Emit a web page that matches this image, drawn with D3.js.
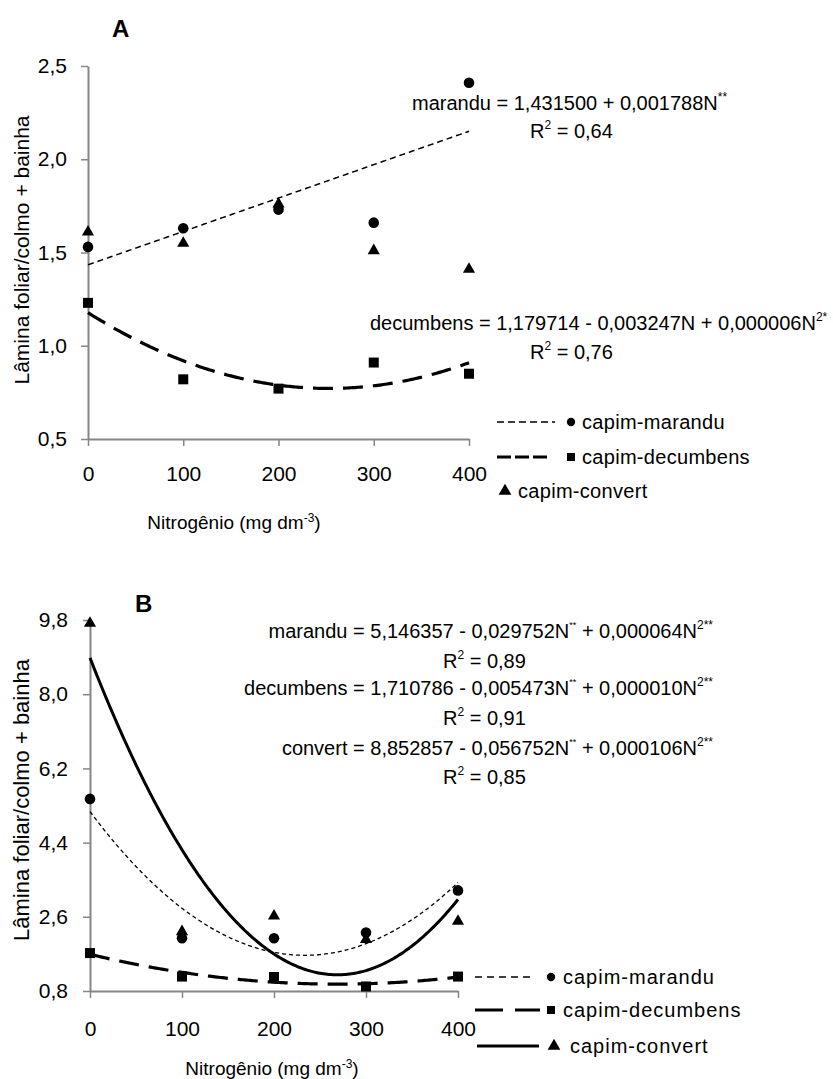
<!DOCTYPE html>
<html><head><meta charset="utf-8">
<script src="https://cdn.jsdelivr.net/npm/d3@7"></script>
<style>
body{margin:0;background:#fff;}
svg{display:block;font-family:"Liberation Sans",Arial,sans-serif;}
</style></head>
<body>
<svg id="c" width="833" height="1079"></svg>
<script>
const nitrogen = [0, 100, 200, 300, 400];
const xTicks = [0, 100, 200, 300, 400];
// Panel A
const aMarandu = [1.53, 1.63, 1.73, 1.66, 2.41];
const aDecumbens = [1.23, 0.82, 0.77, 0.91, 0.85];
const aConvert = [1.61, 1.55, 1.76, 1.51, 1.41];
const aYTicks = [0.5, 1.0, 1.5, 2.0, 2.5];
// Panel B
const bMarandu = [5.46, 2.08, 2.08, 2.22, 3.24];
const bDecumbens = [1.72, 1.15, 1.14, 0.91, 1.15];
const bConvert = [9.72, 2.24, 2.62, 2.05, 2.49];
const bYTicks = [0.8, 2.6, 4.4, 6.2, 8.0, 9.8];

const svg = d3.select("#c");
const AX = "#868686";
const fmt = d => d.toFixed(1).replace(".", ",");

// least squares polynomial fit (degree 1 or 2), like a spreadsheet trendline
function polyfit(xs, ys, deg) {
  const n = deg + 1;
  const M = Array.from({length: n}, () => new Array(n + 1).fill(0));
  xs.forEach((x, k) => {
    for (let i = 0; i < n; i++) {
      for (let j = 0; j < n; j++) M[i][j] += Math.pow(x, i + j);
      M[i][n] += ys[k] * Math.pow(x, i);
    }
  });
  for (let i = 0; i < n; i++) {
    let p = i;
    for (let r = i + 1; r < n; r++) if (Math.abs(M[r][i]) > Math.abs(M[p][i])) p = r;
    [M[i], M[p]] = [M[p], M[i]];
    for (let r = 0; r < n; r++) if (r !== i) {
      const f = M[r][i] / M[i][i];
      for (let c = i; c <= n; c++) M[r][c] -= f * M[i][c];
    }
  }
  const coef = M.map((row, i) => row[n] / row[i]);
  return x => coef.reduce((s, c, i) => s + c * Math.pow(x, i), 0);
}

const sym = {
  circle: d3.symbol().type(d3.symbolCircle).size(88)(),
  square: d3.symbol().type(d3.symbolSquare).size(100)(),
  triangle: d3.symbol().type(d3.symbolTriangle).size(64)()
};

function panel(cfg) {
  const x = d3.scaleLinear().domain([0, 400]).range(cfg.xr);
  const y = d3.scaleLinear().domain(cfg.yd).range(cfg.yr);
  const g = svg.append("g");

  const ya = g.append("g").attr("transform", `translate(${cfg.xr[0]},0)`)
    .call(d3.axisLeft(y).tickValues(cfg.yTicks).tickFormat(fmt).tickSize(7).tickSizeOuter(0).tickPadding(cfg.yPad));
  const xa = g.append("g").attr("transform", `translate(0,${cfg.yr[0]})`)
    .call(d3.axisBottom(x).tickValues(xTicks).tickFormat(d3.format("d")).tickSize(7).tickSizeOuter(0).tickPadding(cfg.xPad));
  [ya, xa].forEach(a => {
    a.select(".domain").attr("stroke", AX).attr("stroke-width", 2);
    a.selectAll(".tick line").attr("stroke", AX).attr("stroke-width", 1.5);
    a.selectAll(".tick text").attr("fill", "#000").style("font-size", "21px").style("font-family", '"Liberation Sans",Arial,sans-serif');
  });

  // fitted curves
  const grid = d3.range(0, 400.001, 2);
  cfg.series.forEach(s => {
    if (!s.deg) return;
    const f = polyfit(nitrogen, s.values, s.deg);
    g.append("path")
      .attr("d", d3.line().x(d => x(d)).y(d => y(f(d)))(grid))
      .attr("fill", "none").attr("stroke", "#000")
      .attr("stroke-width", s.sw).attr("stroke-dasharray", s.dash || null);
  });
  // markers
  cfg.series.forEach(s => {
    g.selectAll(null).data(s.values).join("path")
      .attr("d", sym[s.shape])
      .attr("transform", (d, i) => `translate(${x(nitrogen[i])},${y(d)})`)
      .attr("fill", "#000");
  });

  // titles
  g.append("text").attr("x", cfg.label[0]).attr("y", cfg.label[1])
    .attr("font-size", 24).attr("font-weight", "bold").text(cfg.name);
  const xt = g.append("text").attr("x", cfg.xTitle[0]).attr("y", cfg.xTitle[1])
    .attr("text-anchor", "middle").attr("font-size", 19);
  xt.append("tspan").text("Nitrogênio (mg dm");
  xt.append("tspan").attr("dy", -7).attr("font-size", 12).text("-3");
  xt.append("tspan").attr("dy", 7).text(")");
  g.append("text").attr("transform", `translate(${cfg.yTitle[0]},${cfg.yTitle[1]}) rotate(-90)`)
    .attr("text-anchor", "middle").attr("font-size", cfg.yTitleSize).text("Lâmina foliar/colmo + bainha");

  // equations
  cfg.eqs.forEach(e => {
    const t = g.append("text").attr("x", e.x).attr("y", e.y).attr("font-size", 20)
      .attr("text-anchor", e.anchor || "start");
    e.parts.forEach(p => {
      const ts = t.append("tspan").text(p[0]);
      if (p[1] === "sup") ts.attr("font-size", 12).attr("baseline-shift", "9");
      if (p[1] === "sup2") ts.attr("font-size", 9).attr("baseline-shift", "10");
    });
  });

  // legend
  cfg.legend.forEach(l => {
    if (l.line) {
      g.append("line").attr("x1", l.line[0]).attr("x2", l.line[1]).attr("y1", l.y).attr("y2", l.y)
        .attr("stroke", "#000").attr("stroke-width", l.sw).attr("stroke-dasharray", l.dash || null);
    }
    g.append("path").attr("d", d3.symbol().type(l.type).size(l.size)())
      .attr("transform", `translate(${l.mx},${l.y})`).attr("fill", "#000");
    g.append("text").attr("x", l.tx).attr("y", l.y + 7).attr("font-size", 20)
      .attr("letter-spacing", cfg.legendSpacing).text(l.text);
  });
}

panel({
  name: "A", label: [112, 37],
  xr: [88, 469], yr: [439, 66], yd: [0.5, 2.5], yTicks: aYTicks, yPad: 14, xPad: 20,
  xTitle: [234, 529], yTitle: [29, 250], yTitleSize: 21, legendSpacing: 0.3,
  series: [
    {values: aMarandu, shape: "circle", deg: 1, sw: 1.5, dash: "6,4"},
    {values: aDecumbens, shape: "square", deg: 2, sw: 3.2, dash: "20,10"},
    {values: aConvert, shape: "triangle", deg: 0}
  ],
  eqs: [
    {x: 412, y: 110, parts: [["marandu = 1,431500 + 0,001788N"], ["**", "sup"]]},
    {x: 530, y: 138, parts: [["R"], ["2", "sup"], [" = 0,64"]]},
    {x: 370, y: 330, parts: [["decumbens = 1,179714 - 0,003247N + 0,000006N"], ["2*", "sup"]]},
    {x: 530, y: 359, parts: [["R"], ["2", "sup"], [" = 0,76"]]}
  ],
  legend: [
    {y: 422, line: [497, 555], sw: 1.5, dash: "7,4", type: d3.symbolCircle, size: 55, mx: 571, tx: 582, text: "capim-marandu"},
    {y: 457, line: [497, 550], sw: 3, dash: "14,4", type: d3.symbolSquare, size: 64, mx: 571, tx: 582, text: "capim-decumbens"},
    {y: 491, type: d3.symbolTriangle, size: 70, mx: 505, tx: 518, text: "capim-convert"}
  ]
});

panel({
  name: "B", label: [135, 612],
  xr: [90, 458], yr: [991, 620], yd: [0.8, 9.8], yTicks: bYTicks, yPad: 15, xPad: 23,
  xTitle: [272, 1075], yTitle: [29, 800], yTitleSize: 22, legendSpacing: 1,
  series: [
    {values: bMarandu, shape: "circle", deg: 2, sw: 1.3, dash: "4,3"},
    {values: bDecumbens, shape: "square", deg: 2, sw: 3.2, dash: "20,10"},
    {values: bConvert, shape: "triangle", deg: 2, sw: 3}
  ],
  eqs: [
    {x: 713, y: 638, anchor: "end", parts: [["marandu = 5,146357 - 0,029752N"], ["**", "sup2"], [" + 0,000064N"], ["2**", "sup"]]},
    {x: 443, y: 668, parts: [["R"], ["2", "sup"], [" = 0,89"]]},
    {x: 713, y: 695, anchor: "end", parts: [["decumbens = 1,710786 - 0,005473N"], ["**", "sup2"], [" + 0,000010N"], ["2**", "sup"]]},
    {x: 443, y: 725, parts: [["R"], ["2", "sup"], [" = 0,91"]]},
    {x: 713, y: 755, anchor: "end", parts: [["convert = 8,852857 - 0,056752N"], ["**", "sup2"], [" + 0,000106N"], ["2**", "sup"]]},
    {x: 443, y: 784, parts: [["R"], ["2", "sup"], [" = 0,85"]]}
  ],
  legend: [
    {y: 977, line: [475, 532], sw: 1.5, dash: "7,5", type: d3.symbolCircle, size: 55, mx: 551, tx: 563, text: "capim-marandu"},
    {y: 1010, line: [475, 540], sw: 3, dash: "28,12", type: d3.symbolSquare, size: 64, mx: 551, tx: 563, text: "capim-decumbens"},
    {y: 1046, line: [477, 539], sw: 3, type: d3.symbolTriangle, size: 70, mx: 554, tx: 570, text: "capim-convert"}
  ]
});
</script>
</body></html>
